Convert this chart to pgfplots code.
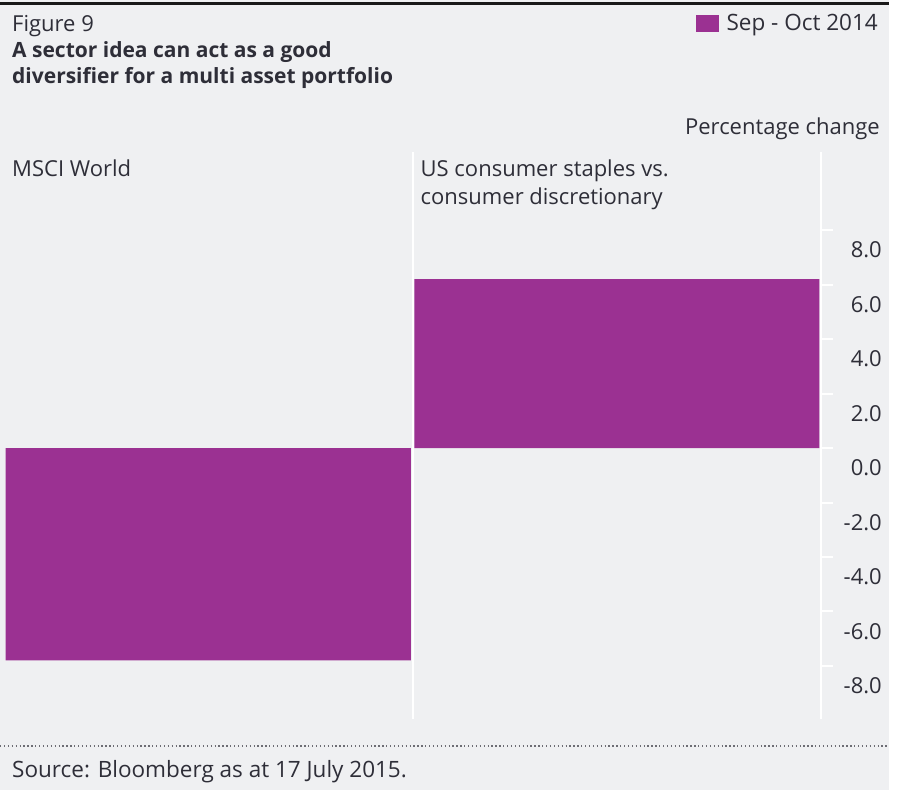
\documentclass[border=0pt]{standalone}
\usepackage{pgfplots}
\pgfplotsset{compat=1.18}
\usepackage{fontspec}
\setmainfont{Open Sans}
\definecolor{bg}{HTML}{EFF0F2}
\definecolor{barpurple}{HTML}{9B3192}
\definecolor{txt}{HTML}{2E2E38}
\begin{document}
\begin{tikzpicture}
\useasboundingbox (0pt,0pt) rectangle (898pt,-793pt);
\fill[white] (0pt,0pt) rectangle (898pt,-793pt);
\fill[bg] (0pt,0pt) rectangle (889pt,-790pt);
\draw[black!90, line width=3pt] (0pt,-3pt) -- (889pt,-3pt);
\draw[txt!70, line width=1.3pt, dash pattern=on 1.3pt off 2.6pt] (0pt,-746pt) -- (889pt,-746pt);
\node[anchor=base west, inner sep=0pt, text=txt, font=\fontsize{22}{25}\selectfont] at (12pt,-31pt) {Figure 9};
\node[anchor=base west, inner sep=0pt, text=txt, font=\fontsize{21}{25}\selectfont\bfseries] at (12pt,-57pt) {A sector idea can act as a good};
\node[anchor=base west, inner sep=0pt, text=txt, font=\fontsize{21}{25}\selectfont\bfseries] at (12pt,-83pt) {diversifier for a multi asset portfolio};
\node[anchor=base east, inner sep=0pt, text=txt, font=\fontsize{22}{25}\selectfont] at (880pt,-134pt) {Percentage change};
\node[anchor=base west, inner sep=0pt, text=txt, font=\fontsize{22.5}{25}\selectfont] at (12pt,-777pt) {Source: Bloomberg as at 17 July 2015.};
\begin{axis}[
  at={(4pt,-719pt)}, anchor=south west,
  scale only axis, width=817pt, height=567pt,
  xmin=-0.5, xmax=1.5, ymin=-9.95, ymax=10.87,
  axis x line*=top, axis y line*=right,
  x axis line style={draw=none},
  y axis line style={white, line width=2pt, -},
  xtick={0,1},
  xticklabels={MSCI World, {US consumer staples vs.\\consumer discretionary}},
  xticklabel style={anchor=north west, align=left, inner sep=0pt, xshift=-196.25pt, yshift=-20pt, text=txt, font=\fontsize{22}{28}\selectfont},
  xtick style={draw=none},
  extra x ticks={0.5}, extra x tick labels={},
  extra x tick style={grid=major, major grid style={white, line width=2pt}, xtick style={draw=none}},
  ytick={-8,-6,...,8},
  tick align=outside, major tick length=12pt,
  ytick style={white, line width=2pt},
  yticklabel style={anchor=east, inner sep=0pt, xshift=49pt, yshift=-20pt, text=txt, font=\fontsize{22}{25}\selectfont},
  /pgf/number format/.cd, fixed, fixed zerofill, precision=1, assume math mode=true,
  /pgfplots/.cd,
  ybar, bar width=405pt, bar shift=0pt,
  legend style={at={(1.0722,1.2469)}, anchor=north east, draw=none, fill=none, inner sep=0pt, text=txt, font=\fontsize{22.5}{25}\selectfont, legend cell align=left},
  legend image code/.code={\fill[barpurple] (0pt,-8.5pt) rectangle (23pt,8.5pt); \path (29pt,0pt);},
]
\addplot[fill=barpurple, draw=none] coordinates {(0,-7.8) (1,6.2)};
\addlegendentry{Sep - Oct 2014}
\end{axis}
\end{tikzpicture}
\end{document}
